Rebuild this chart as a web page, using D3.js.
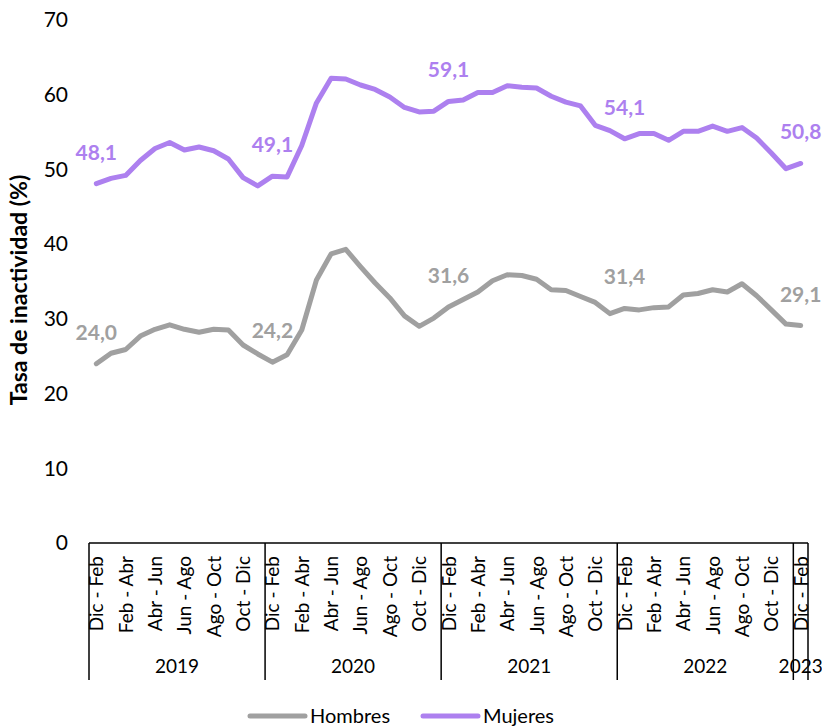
<!DOCTYPE html>
<html>
<head>
<meta charset="utf-8">
<script src="https://cdn.jsdelivr.net/npm/d3@7"></script>
<style>
  body { margin: 0; background: #fff; }
  svg text { font-family: Lato, "Open Sans", sans-serif; }
</style>
</head>
<body>
<div id="chart"></div>
<script>
// categories: rolling quarters, one per month
var periods = ["Dic - Feb", "Ene - Mar", "Feb - Abr", "Mar - May", "Abr - Jun", "May - Jul",
               "Jun - Ago", "Jul - Sep", "Ago - Oct", "Sep - Nov", "Oct - Dic", "Nov - Ene"];
var years = ["2019", "2020", "2021", "2022", "2023"];

var hombres = [24.0, 25.4, 25.9, 27.7, 28.6, 29.2, 28.6, 28.2, 28.6, 28.5, 26.5, 25.3,
               24.2, 25.2, 28.5, 35.2, 38.7, 39.3, 37.0, 34.8, 32.8, 30.4, 29.0, 30.1,
               31.6, 32.6, 33.6, 35.1, 35.9, 35.8, 35.3, 33.9, 33.8, 33.0, 32.2, 30.7,
               31.4, 31.2, 31.5, 31.6, 33.2, 33.4, 33.9, 33.6, 34.7, 33.1, 31.2, 29.3,
               29.1];
var mujeres = [48.1, 48.8, 49.2, 51.2, 52.8, 53.6, 52.6, 53.0, 52.5, 51.4, 48.9, 47.8,
               49.1, 49.0, 53.2, 58.9, 62.2, 62.1, 61.3, 60.7, 59.7, 58.3, 57.7, 57.8,
               59.1, 59.3, 60.3, 60.3, 61.2, 61.0, 60.9, 59.8, 59.0, 58.5, 55.9, 55.2,
               54.1, 54.8, 54.8, 53.9, 55.1, 55.1, 55.8, 55.1, 55.6, 54.2, 52.2, 50.1,
               50.8];
var yTicks = [0, 10, 20, 30, 40, 50, 60, 70];
var labelIdx = [0, 12, 24, 36, 48]; // data labels on each Dic - Feb

var series = [
    {name: "Hombres", values: hombres, color: "#a0a0a0"},
    {name: "Mujeres", values: mujeres, color: "#ad80ef"}
];

// build the category list (year + period)
var cats = [];
years.forEach(function(y, yi) {
    var n = (yi == years.length - 1) ? 1 : periods.length;
    for (var p = 0; p < n; p++) {
        cats.push({year: y, period: periods[p], key: y + "|" + periods[p], pi: p});
    }
});

var w = 822, h = 726;
var mLeft = 89, mRight = 808, mTop = 20, mBottom = 543;

var svg = d3.select("#chart").append("svg")
    .attr("width", w)
    .attr("height", h);

var x = d3.scaleBand()
    .domain(cats.map(function(d) { return d.key; }))
    .range([mLeft, mRight]);

var y = d3.scaleLinear()
    .domain([0, 70])
    .range([mBottom, mTop]);

function cx(i) { return x(cats[i].key) + x.bandwidth() / 2; }

//y axis labels (no axis line)
svg.append("g")
    .attr("transform", "translate(" + (mLeft - 21) + ",0)")
    .call(d3.axisLeft(y).tickValues(yTicks).tickSize(0).tickPadding(0))
    .call(function(g) { g.select(".domain").remove(); })
    .selectAll("text")
    .style("font-size", "21px")
    .style("font-family", "Lato, sans-serif")
    .attr("fill", "#000");

svg.append("text")
    .attr("transform", "translate(27," + 290 + ") rotate(-90)")
    .attr("text-anchor", "middle")
    .style("font-size", "23px")
    .style("font-weight", "bold")
    .text("Tasa de inactividad (%)");

// x axis: baseline + year separators
var axis = svg.append("g").attr("stroke", "#000").attr("stroke-width", 1.5);
axis.append("line")
    .attr("x1", mLeft).attr("x2", mRight)
    .attr("y1", mBottom).attr("y2", mBottom);

var sepIdx = [];
cats.forEach(function(d, i) { if (d.pi == 0) sepIdx.push(i); });
sepIdx.forEach(function(i) {
    axis.append("line")
        .attr("x1", x(cats[i].key)).attr("x2", x(cats[i].key))
        .attr("y1", mBottom).attr("y2", 680);
});
axis.append("line")
    .attr("x1", mRight).attr("x2", mRight)
    .attr("y1", mBottom).attr("y2", 680);

// period labels, every other one
svg.append("g").selectAll("text")
    .data(cats.filter(function(d) { return d.pi % 2 == 0; }))
    .enter()
    .append("text")
    .attr("transform", function(d) {
        return "translate(" + (x(d.key) + x.bandwidth() / 2 + 7) + "," + 556 + ") rotate(-90)";
    })
    .attr("text-anchor", "end")
    .style("font-size", "19px")
    .text(function(d) { return d.period; });

// year labels
svg.append("g").selectAll("text")
    .data(years)
    .enter()
    .append("text")
    .attr("x", function(yr) {
        var first = cats.filter(function(d) { return d.year == yr; });
        var a = x(first[0].key), b = x(first[first.length - 1].key) + x.bandwidth();
        return (a + b) / 2;
    })
    .attr("y", 673)
    .attr("text-anchor", "middle")
    .style("font-size", "19px")
    .text(function(d) { return d; });

// lines
var line = d3.line()
    .x(function(d, i) { return cx(i); })
    .y(function(d) { return y(d); });

svg.selectAll(".serie")
    .data(series)
    .enter()
    .append("path")
    .attr("class", "serie")
    .attr("d", function(s) { return line(s.values); })
    .attr("fill", "none")
    .attr("stroke", function(s) { return s.color; })
    .attr("stroke-width", 5)
    .attr("stroke-linecap", "round")
    .attr("stroke-linejoin", "round");

// data labels
series.forEach(function(s) {
    svg.append("g").selectAll("text")
        .data(labelIdx)
        .enter()
        .append("text")
        .attr("x", function(i) { return cx(i); })
        .attr("y", function(i) { return y(s.values[i]) - 24; })
        .attr("text-anchor", "middle")
        .attr("fill", s.color)
        .style("font-size", "21px")
        .style("font-weight", "bold")
        .text(function(i) { return d3.format(".1f")(s.values[i]).replace(".", ","); });
});

// legend
var legend = svg.append("g").selectAll("g")
    .data(series)
    .enter()
    .append("g")
    .attr("transform", function(d, i) { return "translate(" + (250 + i * 173) + ",716)"; });
legend.append("line")
    .attr("x1", 0).attr("x2", 55)
    .attr("stroke", function(d) { return d.color; })
    .attr("stroke-width", 5)
    .attr("stroke-linecap", "round");
legend.append("text")
    .attr("x", 60)
    .attr("y", 7)
    .style("font-size", "20px")
    .text(function(d) { return d.name; });
</script>
</body>
</html>
